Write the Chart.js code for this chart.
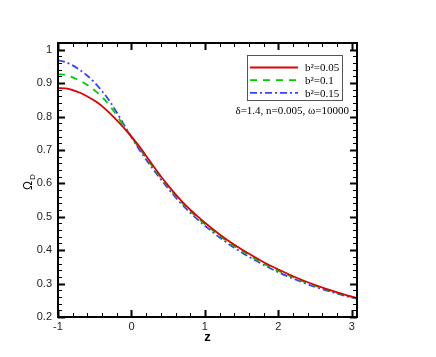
<!DOCTYPE html>
<html>
<head>
<meta charset="utf-8">
<script src="https://cdn.jsdelivr.net/npm/chart.js@4"></script>
<style>
  body { margin: 0; background: #fff; }
  #wrap { width: 436px; height: 357px; }
</style>
</head>
<body>
<div id="wrap"><canvas id="myChart" width="436" height="357"></canvas></div>
<script>
// data
const zValues = [-1, -0.9, -0.8, -0.7, -0.6, -0.5, -0.4, -0.3, -0.2, -0.1, 0,
                 0.1, 0.2, 0.3, 0.4, 0.5, 0.6, 0.7, 0.8, 0.9, 1.0,
                 1.2, 1.4, 1.6, 1.8, 2.0, 2.2, 2.4, 2.6, 2.8, 3.0, 3.07];
const omegaB005 = [.885, .884, .879, .871, .860, .847, .831, .811, .789, .765, .740,
                   .712, .682, .651, .621, .593, .567, .543, .521, .501, .482,
                   .447, .416, .389, .364, .342, .322, .304, .288, .274, .261, .257];
const omegaB01 = [.927, .924, .917, .907, .894, .878, .858, .834, .803, .771, .739,
                  .707, .677, .646, .617, .589, .563, .539, .517, .497, .478,
                  .443, .412, .385, .360, .338, .319, .301, .286, .272, .260, .256];
const omegaB015 = [.968, .963, .953, .939, .922, .901, .876, .847, .812, .775, .738,
                   .703, .671, .641, .612, .584, .558, .534, .512, .492, .473,
                   .438, .407, .380, .356, .334, .315, .298, .283, .270, .258, .255];
const seriesLabels = ['b\u00B2=0.05', 'b\u00B2=0.1', 'b\u00B2=0.15'];
const xTicks = [-1, 0, 1, 2, 3];
const yTicks = [0.2, 0.3, 0.4, 0.5, 0.6, 0.7, 0.8, 0.9, 1];
const note = '\u03B4=1.4, n=0.005, \u03C9=10000';

function toPoints(ys) {
    return zValues.map((z, i) => ({ x: z, y: ys[i] }));
}

// ticks on all four sides, pointing inward, plus legend box and labels
const framePlugin = {
    id: 'frame',
    afterDraw(chart) {
        const ctx = chart.ctx;
        const xs = chart.scales.x, ys = chart.scales.y;
        const a = chart.chartArea;
        ctx.save();
        ctx.strokeStyle = '#000';
        // x ticks
        for (let i = -5; i <= 15; i++) {
            const v = i / 5;
            if (v < xs.min - 1e-9 || v > xs.max + 1e-9) continue;
            const px = Math.round(xs.getPixelForValue(v)) + 0.5;
            const major = (i % 5 === 0);
            ctx.lineWidth = major ? 2 : 1;
            const len = major ? 7 : 4;
            ctx.beginPath();
            ctx.moveTo(px, a.bottom); ctx.lineTo(px, a.bottom - len);
            ctx.moveTo(px, a.top); ctx.lineTo(px, a.top + len);
            ctx.stroke();
        }
        // y ticks
        for (let i = 10; i <= 51; i++) {
            const v = i / 50;
            if (v < ys.min - 1e-9 || v > ys.max + 1e-9) continue;
            const py = Math.round(ys.getPixelForValue(v)) + 0.5;
            const major = (i % 5 === 0);
            ctx.lineWidth = major ? 2 : 1;
            const len = major ? 7 : 4;
            ctx.beginPath();
            ctx.moveTo(a.left, py); ctx.lineTo(a.left + len, py);
            ctx.moveTo(a.right, py); ctx.lineTo(a.right - len, py);
            ctx.stroke();
        }
        // frame
        ctx.lineWidth = 2;
        ctx.strokeRect(a.left, a.top, a.right - a.left, a.bottom - a.top);

        // axis titles
        ctx.fillStyle = '#000';
        ctx.font = 'bold 13px "Liberation Sans", Arial, sans-serif';
        ctx.textAlign = 'center';
        ctx.textBaseline = 'middle';
        ctx.fillText('z', (a.left + a.right) / 2, 337);
        ctx.save();
        ctx.translate(29, 184);
        ctx.rotate(-Math.PI / 2);
        ctx.textAlign = 'left';
        ctx.font = '12px "Liberation Sans", Arial, sans-serif';
        ctx.fillText('\u03A9', -6, 0);
        ctx.font = '8px "Liberation Sans", Arial, sans-serif';
        ctx.fillText('D', 4, 4);
        ctx.restore();

        // legend box
        const lx = 247, ly = 55, lw = 95, lh = 45;
        ctx.lineWidth = 1;
        ctx.strokeStyle = '#555';
        ctx.strokeRect(lx + 0.5, ly + 0.5, lw, lh);
        ctx.font = '11px "Liberation Serif", "Times New Roman", serif';
        ctx.textAlign = 'left';
        chart.data.datasets.forEach((ds, i) => {
            const yy = ly + 12.5 + i * 12.7;
            ctx.strokeStyle = ds.borderColor;
            ctx.lineWidth = ds.borderWidth;
            ctx.setLineDash(ds.borderDash || []);
            ctx.beginPath();
            ctx.moveTo(250, yy); ctx.lineTo(298, yy);
            ctx.stroke();
            ctx.setLineDash([]);
            ctx.fillStyle = '#000';
            ctx.fillText(ds.label, 305, yy + 1);
        });
        ctx.textAlign = 'right';
        ctx.fillText(note, 349, 111);
        ctx.restore();
    }
};

new Chart(document.getElementById('myChart'), {
    type: 'line',
    data: {
        datasets: [{
            label: seriesLabels[0],
            data: toPoints(omegaB005),
            borderColor: '#e00000',
            borderWidth: 1.8,
            pointRadius: 0,
            fill: false,
            cubicInterpolationMode: 'monotone'
        }, {
            label: seriesLabels[1],
            data: toPoints(omegaB01),
            borderColor: '#00cc00',
            borderWidth: 1.8,
            borderDash: [7, 6],
            pointRadius: 0,
            fill: false,
            cubicInterpolationMode: 'monotone'
        }, {
            label: seriesLabels[2],
            data: toPoints(omegaB015),
            borderColor: '#3344ff',
            borderWidth: 1.8,
            borderDash: [7, 3, 2, 3],
            pointRadius: 0,
            fill: false,
            cubicInterpolationMode: 'monotone'
        }]
    },
    options: {
        responsive: false,
        animation: false,
        layout: { padding: { left: 0, right: 79, top: 43, bottom: 0 } },
        plugins: {
            legend: { display: false },
            tooltip: { enabled: false }
        },
        scales: {
            x: {
                type: 'linear',
                min: -1,
                max: 3.07,
                grid: { display: false, drawTicks: false },
                border: { display: false },
                afterBuildTicks: (s) => { s.ticks = xTicks.map(v => ({ value: v })); },
                afterFit: (s) => { s.height = 40; },
                ticks: {
                    color: '#222',
                    padding: 3,
                    font: { family: '"Liberation Sans", Arial, sans-serif', size: 11 },
                    maxRotation: 0
                }
            },
            y: {
                type: 'linear',
                min: 0.2,
                max: 1.02,
                grid: { display: false, drawTicks: false },
                border: { display: false },
                afterBuildTicks: (s) => { s.ticks = yTicks.map(v => ({ value: v })); },
                afterFit: (s) => { s.width = 58; },
                ticks: {
                    color: '#222',
                    padding: 6,
                    font: { family: '"Liberation Sans", Arial, sans-serif', size: 11 },
                    callback: (v) => String(Math.round(v * 10) / 10)
                }
            }
        }
    },
    plugins: [framePlugin]
});
</script>
</body>
</html>
